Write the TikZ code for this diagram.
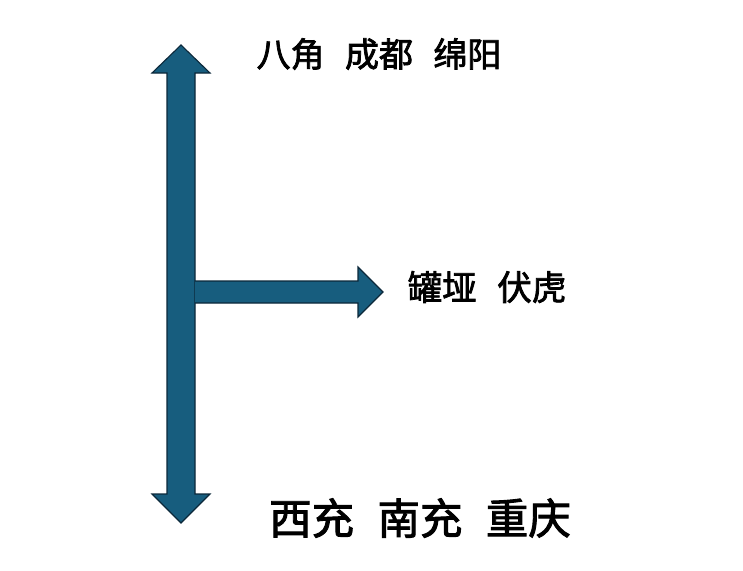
\documentclass[tikz,border=0pt]{standalone}
\usepackage{fontspec}
\newfontfamily\cjk[FakeBold=2.2]{Noto Sans CJK SC}
\definecolor{arrfill}{RGB}{23,93,126}
\definecolor{arrline}{RGB}{12,40,58}
\begin{document}
\begin{tikzpicture}[x=1pt,y=-1pt,
  blockarrow/.style={fill=arrfill,draw=arrline,line width=1.1pt,line join=miter},
  place/.style={inner sep=0pt}]
\useasboundingbox[fill=white] (0,0) rectangle (743,570);
% vertical double arrow
\coordinate (vtop) at (181,45);
\coordinate (vbot) at (181,523);
\draw[blockarrow] (vtop) -- (210,73) -- (195,73) -- (195,494) -- (210,494)
  -- (vbot) -- (152,494) -- (167,494) -- (167,73) -- (152,73) -- cycle;
% horizontal arrow
\coordinate (htip) at (383,292);
\draw[blockarrow] (195,281) -- (358,281) -- (358,267) -- (htip) -- (358,317)
  -- (358,303) -- (195,303);
\node[place,font=\cjk\fontsize{34}{34}\selectfont] (north) at (379,54) {八角\hspace{0.6em}成都\hspace{0.6em}绵阳};
\node[place,font=\cjk\fontsize{34.5}{34.5}\selectfont] (east) at (487,287) {罐垭\hspace{0.6em}伏虎};
\node[place,font=\cjk\fontsize{42.5}{42.5}\selectfont] (south) at (420,518) {西充\hspace{0.55em}南充\hspace{0.55em}重庆};
\end{tikzpicture}
\end{document}
